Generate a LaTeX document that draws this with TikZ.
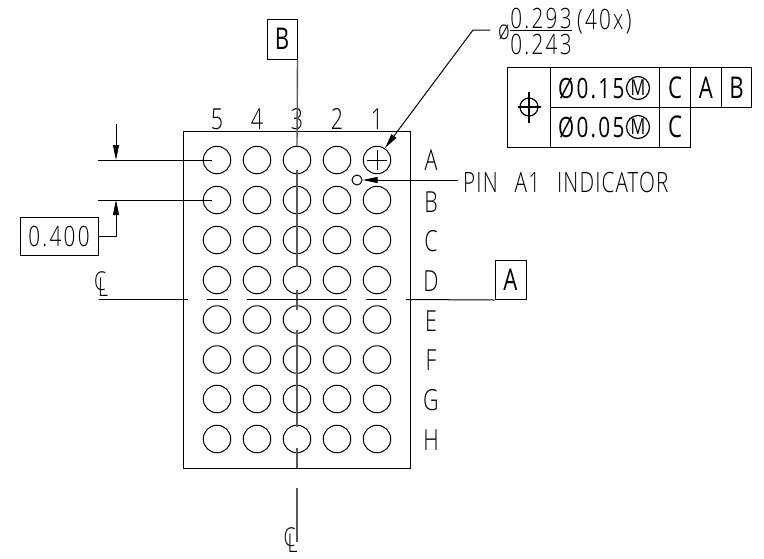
\documentclass[tikz,border=0pt]{standalone}
\usepackage{fontspec}
\usetikzlibrary{arrows.meta}
\newfontfamily\cad[FakeStretch=0.74,LetterSpace=8]{Open Sans Light}
\newfontfamily\cadpin[FakeStretch=0.74,LetterSpace=4]{Open Sans Light}
\newfontfamily\cadplain[FakeStretch=0.74]{Open Sans Light}
\newfontfamily\cadreg[FakeStretch=0.74,LetterSpace=8]{Open Sans}
\newfontfamily\cadbox[FakeStretch=0.74]{Open Sans}
\tikzset{
  ln/.style={line width=1pt,black},
  cl/.style={line width=1.4pt,black!65},
  ball/.style={circle,draw,line width=1pt,minimum size=27.5pt,inner sep=0pt},
  lab/.style={inner sep=0pt,font=\cadplain\fontsize{29}{29}\selectfont},
  txt/.style={inner sep=0pt,font=\cad\fontsize{28}{28}\selectfont},
  reg/.style={inner sep=0pt,font=\cadbox\fontsize{30}{30}\selectfont},
  box/.style={draw,line width=1pt,inner sep=0pt,font=\cadbox\fontsize{30}{30}\selectfont},
  tip/.style={-{Triangle[length=15pt,width=6pt]}},
}
\begin{document}
\begin{tikzpicture}[x=1pt,y=-1pt]
\useasboundingbox (0,0) rectangle (764,558);
% package outline
\node[draw,line width=1pt,inner sep=0pt,minimum width=227pt,minimum height=336.5pt] (pkg) at (297,299.75) {};
% balls
\foreach \c/\x in {5/217,4/257,3/297,2/337,1/377}
  \foreach \r/\y in {A/160,B/200,C/240,D/280,E/319.5,F/359.5,G/399,H/439}
    \node[ball] (b\c\r) at (\x,\y) {};
% column labels
\foreach \c/\x in {5/217,4/257,3/297,2/337,1/377}
  \node[lab] (col\c) at (\x,119) {\c};
% row labels
\foreach \r/\y in {A/160,B/202,C/241,D/281,E/321,F/360,G/400,H/440}
  \node[lab] (row\r) at (431,\y) {\r};
% datum boxes
\node[box,minimum width=30pt,minimum height=40pt] (dB) at (282,39) {B};
\node[box,minimum width=31pt,minimum height=39.5pt] (dA) at (510.5,279.75) {A};
% vertical centre line
\draw[cl] (dB.south east) -- (297,146);
\draw[cl] (297,170) -- (297,267);
\draw[cl] (297,290) -- (297,310);
\draw[cl] (297,330) -- (297,427);
\draw[cl] (297,448) -- (297,468);
\draw[cl] (297,488) -- (297,542);
% horizontal centre line
\draw[ln] (99,299.5) -- (188,299.5);
\draw[ln] (207,299.5) -- (228,299.5);
\draw[ln] (247,299.5) -- (347,299.5);
\draw[ln] (366,299.5) -- (387,299.5);
\draw[ln] (406,299.5) -- (dA.south west);
% centre line marks
\node[lab,font=\cadplain\fontsize{26}{26}\selectfont] (clone) at (101,284) {C\kern-8pt\raisebox{-6pt}{L}};
\node[lab,font=\cadplain\fontsize{26}{26}\selectfont] (cltwo) at (290.5,540) {C\kern-8pt\raisebox{-6pt}{L}};
% pitch dimension
\coordinate (e1) at (98,160); \coordinate (e2) at (98,200);
\draw[ln] (e1) -- (212,160);
\draw[ln] (e2) -- (212,200);
\coordinate (t1) at (116,124); \coordinate (a1) at (116,160); \coordinate (a2) at (116,200);
\draw[ln,tip] (t1) -- (a1);
\node[box,minimum width=78pt,minimum height=38pt,font=\cad\fontsize{28}{28}\selectfont] (dim) at (59,236) {0.400};
\draw[ln,tip] (dim.east) -| (a2);
% ball size callout
\node[lab,font=\cadplain\fontsize{27}{27}\selectfont] (dia) at (504,32) {ø};
\node[txt] (top) at (541,18) {0.293};
\node[txt] (bot) at (541,44.5) {0.243};
\draw[ln] (510,30.5) -- (572,30.5);
\node[txt,anchor=west] (cnt) at (577,22) {(40x)};
\coordinate (lead) at (490,30);
\draw[ln,tip] (lead) -- (473,30) -- (385,148);
% A1 ball cross
\draw[ln] (367,160) -- (387,160) (377,150) -- (377,170);
% pin A1
\node[circle,draw,line width=1pt,minimum size=10pt,inner sep=0pt] (pin) at (357,180) {};
\node[txt,anchor=west,font=\cadpin\fontsize{28}{28}\selectfont] (pintxt) at (463,182) {PIN\hspace{17pt}A1\hspace{17pt}INDICATOR};
\draw[ln,tip] (458,180) -- (pin.east);
% feature control frame
\draw[ln] (507.7,67.5) rectangle (550,147);
\draw[ln] (550,67.5) rectangle (659,107.5);
\draw[ln] (659,67.5) rectangle (690,107.5);
\draw[ln] (690,67.5) rectangle (721.7,107.5);
\draw[ln] (721.7,67.5) rectangle (751.7,107.5);
\draw[ln] (550,107.5) rectangle (659,147);
\draw[ln] (659,107.5) rectangle (690,147);
\node[circle,draw,line width=1.2pt,minimum size=18pt,inner sep=0pt] (sym) at (529,107) {};
\draw[line width=1.2pt] (518,107) -- (541,107) (529,92) -- (529,123);
\foreach \n/\y/\t in {1/88/0.15,2/127/0.05}{
  \node[txt,font=\cadreg\fontsize{28}{28}\selectfont,anchor=west] (tol\n) at (558,\y) {Ø\t};
  \node[circle,draw,line width=1.2pt,minimum size=23pt,inner sep=0pt,font=\cadbox\fontsize{22}{22}\selectfont] (m\n) at (638,\y) {M};
}
\node[reg] (f1) at (675,88) {C};
\node[reg] (f2) at (706,88) {A};
\node[reg] (f3) at (736.5,88) {B};
\node[reg] (f4) at (675,127) {C};
\end{tikzpicture}
\end{document}
